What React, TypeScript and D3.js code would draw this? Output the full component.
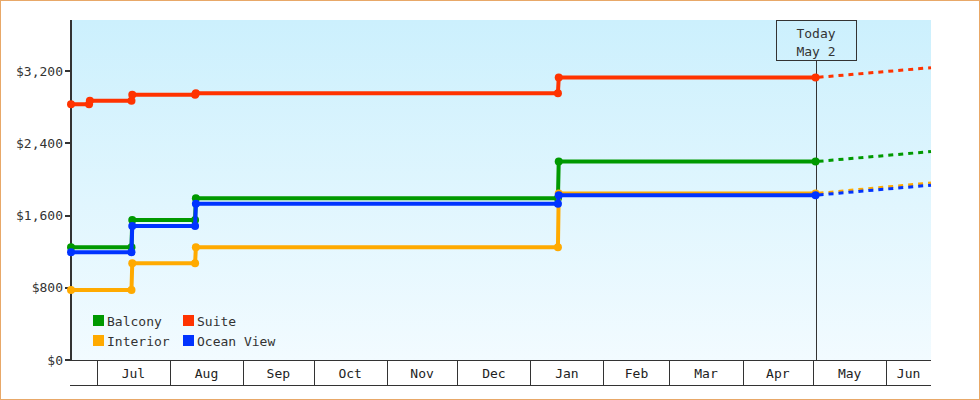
import React from "react";
import * as d3 from "d3";

const W = 980;
const H = 400;
const M = { left: 71, right: 931, top: 20, bottom: 360 };

const seriesNames = ["Balcony", "Suite", "Interior", "Ocean View"];
const seriesColors = ["#009900", "#ff3300", "#ffaa00", "#0033ff"];

// Observed price history (date, price); step changes appear as two observations
const balconyDates = ["2022-06-20 00:00", "2022-07-15 16:00", "2022-07-16 00:00", "2022-08-11 16:00", "2022-08-12 00:00", "2023-01-12 16:00", "2023-01-13 00:00", "2023-05-02 00:00"];
const balconyPrices = [1248, 1248, 1551, 1551, 1792, 1792, 2197, 2197];

const suiteDates = ["2022-06-20 00:00", "2022-06-27 16:00", "2022-06-28 00:00", "2022-07-15 16:00", "2022-07-16 00:00", "2022-08-11 16:00", "2022-08-12 00:00", "2023-01-12 16:00", "2023-01-13 00:00", "2023-05-02 00:00"];
const suitePrices = [2833, 2833, 2870, 2870, 2936, 2936, 2955, 2955, 3128, 3128];

const interiorDates = ["2022-06-20 00:00", "2022-07-15 16:00", "2022-07-16 00:00", "2022-08-11 16:00", "2022-08-12 00:00", "2023-01-12 16:00", "2023-01-13 00:00", "2023-05-02 00:00"];
const interiorPrices = [776, 776, 1071, 1071, 1248, 1248, 1843, 1843];

const oceanDates = ["2022-06-20 00:00", "2022-07-15 16:00", "2022-07-16 00:00", "2022-08-11 16:00", "2022-08-12 00:00", "2023-01-12 16:00", "2023-01-13 00:00", "2023-05-02 00:00"];
const oceanPrices = [1193, 1193, 1485, 1485, 1729, 1729, 1825, 1825];

// Forecast (dashed) from today to end of range
const forecastDates = ["2023-05-02 00:00", "2023-06-20 00:00"];
const balconyForecast = [2197, 2308];
const suiteForecast = [3128, 3237];
const interiorForecast = [1843, 1961];
const oceanForecast = [1825, 1936];

const yTicks = [0, 800, 1600, 2400, 3200];
const todayDate = "2023-05-02 00:00";
const todayLabel = ["Today", "May 2"];
const domainStart = "2022-06-20 00:00";
const domainEnd = "2023-06-20 00:00";

const parse = d3.timeParse("%Y-%m-%d %H:%M");

const FONT = "'DejaVu Sans Mono', monospace";

export default function App() {
  const x = d3.scaleTime().domain([parse(domainStart)!, parse(domainEnd)!]).range([M.left, M.right]);
  const y = d3.scaleLinear().domain([0, 3765]).range([M.bottom, M.top]);

  const histories = [
    { dates: balconyDates, prices: balconyPrices, fc: balconyForecast },
    { dates: suiteDates, prices: suitePrices, fc: suiteForecast },
    { dates: interiorDates, prices: interiorPrices, fc: interiorForecast },
    { dates: oceanDates, prices: oceanPrices, fc: oceanForecast },
  ];

  const line = d3
    .line<[Date, number]>()
    .x((d) => x(d[0]))
    .y((d) => y(d[1]));

  const [d0, d1] = x.domain();
  const bounds = [d0, ...d3.timeMonth.range(d3.timeMonth.ceil(d0), d1), d1];
  const cells = bounds.slice(0, -1).map((b, i) => ({ start: b, end: bounds[i + 1] }));
  const fmt = d3.timeFormat("%b");
  const tx = x(parse(todayDate)!);

  return (
    <div style={{ position: "fixed", left: 0, top: 0 }}>
      <svg width={W} height={H} style={{ display: "block" }}>
        <defs>
          <linearGradient id="bg" x1="0" y1="0" x2="0" y2="1">
            <stop offset="0%" stopColor="#ccf0fd" />
            <stop offset="100%" stopColor="#f2fbff" />
          </linearGradient>
        </defs>
        <rect x={0.5} y={0.5} width={W - 1} height={H - 1} fill="#fff" stroke="#e8a868" />
        <rect x={M.left} y={M.top} width={M.right - M.left} height={M.bottom - M.top} fill="url(#bg)" />

        {/* x axis month cells */}
        <g shapeRendering="crispEdges" stroke="#333" strokeWidth={1}>
          <line x1={M.left - 1} x2={M.right} y1={M.bottom + 0.5} y2={M.bottom + 0.5} />
          <line x1={M.left - 1} x2={M.right} y1={385.5} y2={385.5} />
          {bounds.slice(1, -1).map((b, i) => (
            <line key={i} x1={Math.round(x(b)) + 0.5} x2={Math.round(x(b)) + 0.5} y1={M.bottom} y2={385} />
          ))}
        </g>
        {cells.map((c, i) => {
          const w = x(c.end) - x(c.start);
          if (w < 35) return null;
          return (
            <text key={i} x={(x(c.start) + x(c.end)) / 2} y={373} textAnchor="middle" dominantBaseline="central" fontFamily={FONT} fontSize={13} fill="#222">
              {fmt(c.start)}
            </text>
          );
        })}

        {/* y axis */}
        <g shapeRendering="crispEdges" stroke="#333">
          <line x1={M.left} x2={M.left} y1={M.top} y2={M.bottom + 1} strokeWidth={2} />
          {yTicks.map((t) => (
            <line key={t} x1={M.left - 6} x2={M.left} y1={Math.round(y(t))} y2={Math.round(y(t))} strokeWidth={2} />
          ))}
        </g>
        {yTicks.map((t) => (
          <text key={t} x={M.left - 8} y={y(t)} textAnchor="end" dominantBaseline="central" fontFamily={FONT} fontSize={13} fill="#333">
            {d3.format("$,")(t)}
          </text>
        ))}

        {/* today marker */}
        <line x1={Math.round(tx) + 0.5} x2={Math.round(tx) + 0.5} y1={60} y2={M.bottom} stroke="#333" strokeWidth={1} shapeRendering="crispEdges" />
        <rect x={Math.round(tx) - 39.5} y={20.5} width={80} height={40} fill="none" stroke="#333" strokeWidth={1} shapeRendering="crispEdges" />
        <text x={tx + 0.5} y={33} textAnchor="middle" dominantBaseline="central" fontFamily={FONT} fontSize={13} fill="#333">
          {todayLabel[0]}
        </text>
        <text x={tx + 0.5} y={51} textAnchor="middle" dominantBaseline="central" fontFamily={FONT} fontSize={13} fill="#333">
          {todayLabel[1]}
        </text>

        {/* series */}
        {histories.map((s, i) => {
          const pts: [Date, number][] = s.dates.map((d, j) => [parse(d)!, s.prices[j]]);
          const fpts: [Date, number][] = forecastDates.map((d, j) => [parse(d)!, s.fc[j]]);
          return (
            <g key={i}>
              <path d={line(fpts)!} fill="none" stroke={seriesColors[i]} strokeWidth={3} strokeDasharray="5,5" strokeDashoffset={-3} />
              <path d={line(pts)!} fill="none" stroke={seriesColors[i]} strokeWidth={4} strokeLinejoin="round" />
              {pts.map((p, j) => (
                <circle key={j} cx={x(p[0])} cy={y(p[1])} r={4} fill={seriesColors[i]} />
              ))}
            </g>
          );
        })}

        {/* legend */}
        {seriesNames.map((n, i) => {
          const col = i % 2;
          const row = Math.floor(i / 2);
          const lx = 93 + col * 90;
          const ly = 315 + row * 20;
          return (
            <g key={n}>
              <rect x={lx} y={ly} width={11} height={11} fill={seriesColors[i]} />
              <text x={lx + 14} y={ly + 6} dominantBaseline="central" fontFamily={FONT} fontSize={13} fill="#333">
                {n}
              </text>
            </g>
          );
        })}
      </svg>
    </div>
  );
}
